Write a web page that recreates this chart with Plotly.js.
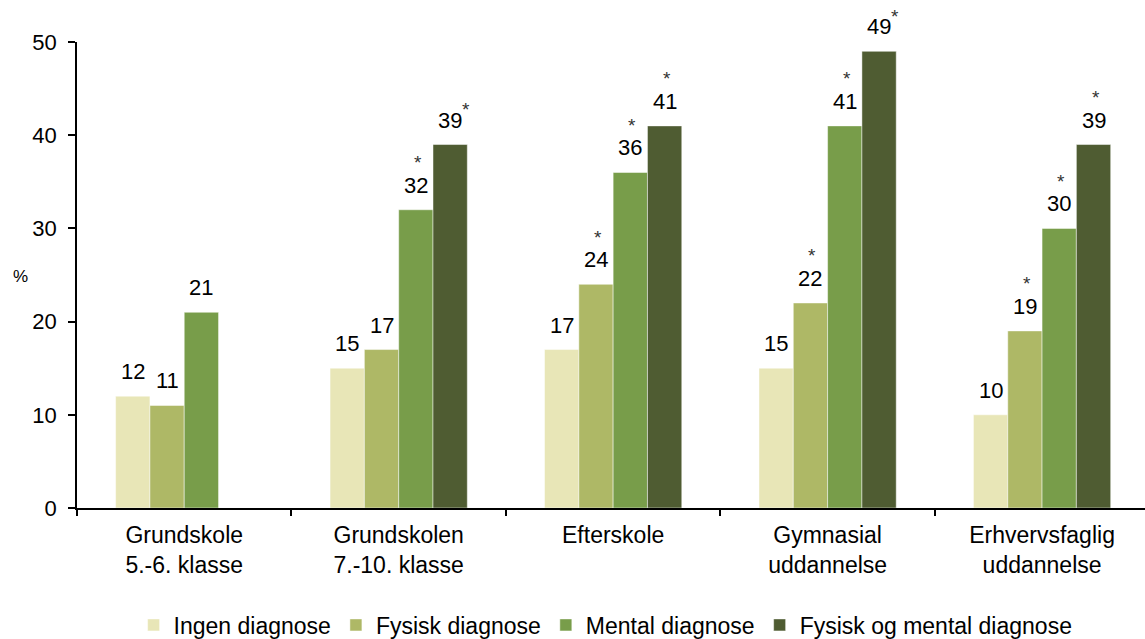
<!DOCTYPE html>
<html>
<head>
<meta charset="utf-8">
<script src="https://cdn.plot.ly/plotly-3.0.1.min.js"></script>
<style>html,body{margin:0;padding:0;background:#fff;}#chart{width:1145px;height:639px;}</style>
</head>
<body>
<div id="chart"></div>
<script>
// ---- data ----
const categories = ['Grundskole<br>5.-6. klasse', 'Grundskolen<br>7.-10. klasse', 'Efterskole', 'Gymnasial<br>uddannelse', 'Erhvervsfaglig<br>uddannelse'];
const seriesNames = ['Ingen diagnose', 'Fysisk diagnose', 'Mental diagnose', 'Fysisk og mental diagnose'];
const ingenDiagnose = [12, 15, 17, 15, 10];
const fysiskDiagnose = [11, 17, 24, 22, 19];
const mentalDiagnose = [21, 32, 36, 41, 30];
const fysiskOgMental = [null, 39, 41, 49, 39];
// significance marker: 0 = none, 1 = star above the value, 2 = star as superscript
const sigIngen = [0, 0, 0, 0, 0];
const sigFysisk = [0, 0, 1, 1, 1];
const sigMental = [0, 1, 1, 1, 1];
const sigBegge = [0, 2, 1, 2, 1];
const yTicks = [0, 10, 20, 30, 40, 50];

// ---- styling ----
const colors = ['#E8E6B7', '#AEB866', '#789D4A', '#4F5C32'];
const FONT = 'Liberation Sans, Arial, sans-serif';
const W = 1145, H = 639;
const margin = {l: 77, r: 0, t: 42, b: 131, autoexpand: false};
const xRange = [-0.5, 4.48];
const bargap = 0.36;

const allValues = [ingenDiagnose, fysiskDiagnose, mentalDiagnose, fysiskOgMental];
const allSig = [sigIngen, sigFysisk, sigMental, sigBegge];

const traces = allValues.map((vals, s) => ({
  type: 'bar',
  name: seriesNames[s],
  x: categories,
  y: vals,
  marker: {color: colors[s], line: {color: 'rgba(255,255,255,0.6)', width: 0.8}},
  hoverinfo: 'x+y+name'
}));

// bar geometry for label offsets
const plotW = W - margin.l - margin.r;
const catPx = plotW / (xRange[1] - xRange[0]);
const barPx = catPx * (1 - bargap) / allValues.length;

const annotations = [];
allValues.forEach((vals, s) => {
  vals.forEach((v, c) => {
    if (v === null) return;
    const dx = (s - (allValues.length - 1) / 2) * barPx;
    annotations.push({
      x: c, y: v, xref: 'x', yref: 'y', text: String(v), showarrow: false,
      xanchor: 'center', yanchor: 'bottom', xshift: dx, yshift: 10,
      font: {family: FONT, size: 22, color: '#000'}
    });
    const sg = allSig[s][c];
    if (sg === 1) {
      annotations.push({
        x: c, y: v, xref: 'x', yref: 'y', text: '*', showarrow: false,
        xanchor: 'center', yanchor: 'middle', xshift: dx + 2, yshift: 47,
        font: {family: FONT, size: 19, color: '#333'}
      });
    } else if (sg === 2) {
      annotations.push({
        x: c, y: v, xref: 'x', yref: 'y', text: '*', showarrow: false,
        xanchor: 'center', yanchor: 'middle', xshift: dx + 16, yshift: 35,
        font: {family: FONT, size: 19, color: '#333'}
      });
    }
  });
});
// y-axis "%" label
annotations.push({
  x: 0, xref: 'paper', xanchor: 'center', xshift: -57,
  y: 24.8, yref: 'y', yanchor: 'middle',
  text: '%', showarrow: false, font: {family: FONT, size: 17, color: '#000'}
});

const layout = {
  width: W, height: H,
  margin: margin,
  paper_bgcolor: '#fff', plot_bgcolor: '#fff',
  font: {family: FONT, color: '#000'},
  barmode: 'group', bargap: bargap, bargroupgap: 0,
  showlegend: true,
  legend: {
    orientation: 'h', x: 0.053, xanchor: 'left', y: -0.251, yanchor: 'middle',
    font: {family: FONT, size: 23, color: '#000'}, traceorder: 'normal'
  },
  xaxis: {
    type: 'category', range: xRange, showline: true, linecolor: '#000', linewidth: 1.5,
    ticks: 'outside', tickson: 'boundaries', ticklen: 6, tickcolor: '#000', tickwidth: 1.5,
    ticklabelstandoff: 6,
    tickfont: {family: FONT, size: 23, color: '#000'}, showgrid: false, zeroline: false,
    fixedrange: true
  },
  yaxis: {
    range: [0, 50], tickvals: yTicks, ticktext: yTicks.map(String),
    showline: true, linecolor: '#000', linewidth: 1.5,
    ticks: 'outside', ticklen: 7, tickcolor: '#000', tickwidth: 1.5,
    ticklabelstandoff: 7,
    tickfont: {family: FONT, size: 22, color: '#000'}, showgrid: false, zeroline: false,
    fixedrange: true
  },
  annotations: annotations
};

Plotly.newPlot('chart', traces, layout, {displayModeBar: false, staticPlot: false});
</script>
</body>
</html>
